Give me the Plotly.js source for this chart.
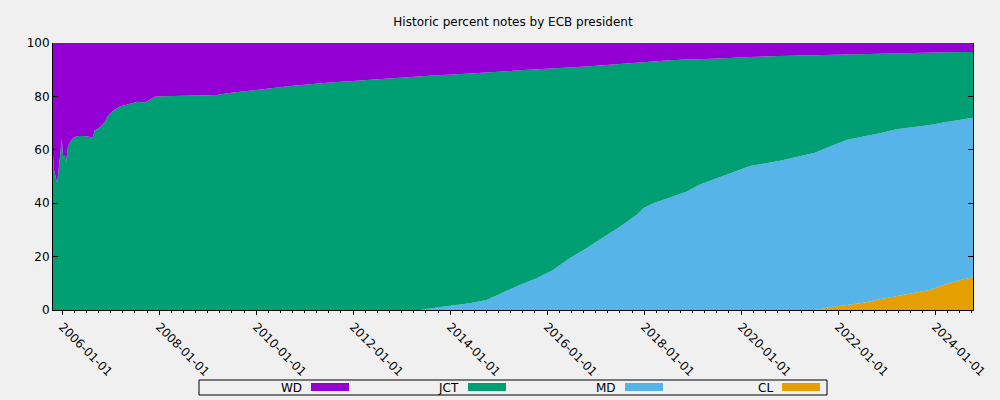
<!DOCTYPE html>
<html><head><meta charset="utf-8">
<script src="https://cdn.plot.ly/plotly-3.0.1.min.js"></script>
<style>html,body{margin:0;padding:0;background:#f0f0f0}#chart{width:1000px;height:400px}</style>
</head><body><div id="chart"></div>
<script>
// Dates of the readings
const dates = [
 '2005-10-23','2005-11-01','2005-11-24','2005-12-12','2005-12-28','2006-01-08','2006-01-21','2006-01-28',
 '2006-02-13','2006-03-10','2006-03-25','2006-04-28','2006-06-06','2006-08-18','2006-09-02','2006-10-12',
 '2006-11-18','2006-12-10','2007-01-19','2007-03-10','2007-05-26','2007-07-24','2007-09-17','2007-10-23',
 '2007-11-29','2008-01-30','2008-09-12','2009-03-10','2009-05-27','2010-01-30','2010-10-05','2011-06-18',
 '2012-02-21','2012-10-27','2013-05-19','2013-09-20','2014-01-23','2014-05-27','2014-10-02','2015-02-03',
 '2015-06-07','2015-10-13','2016-02-14','2016-06-17','2016-10-23','2017-02-24','2017-07-02','2017-11-03',
 '2017-12-24','2018-03-11','2018-07-13','2018-11-14','2019-02-24','2019-10-05','2020-03-07','2020-10-19',
 '2021-03-18','2021-07-09','2021-10-30','2022-03-04','2022-07-09','2022-11-10','2023-03-14','2023-07-16',
 '2023-11-21','2024-03-25','2024-07-31','2024-10-12'
];
// Percent of notes signed by each ECB president
const WD = [
 42,48,52.4,44,36,42.6,42,45,
 38.8,36.3,35.5,34.8,34.8,35.3,32.8,31.6,
 29.5,27.3,25.4,23.8,22.8,22.0,22.3,21.3,
 20.1,19.9,19.8,19.5,18.8,17.4,16.0,14.9,
 14.0,13.2,12.5,12.1,11.8,11.5,11.1,10.7,
 10.2,9.9,9.6,9.2,8.8,8.3,7.8,7.3,
 7.2,6.9,6.5,6.2,6.1,5.6,5.2,4.9,
 4.7,4.6,4.5,4.3,4.2,4.1,3.9,3.7,
 3.6,3.5,3.4,3.4
];
const JCT = [
 58,52,47.6,56,64,57.4,58,55,
 61.2,63.7,64.5,65.2,65.2,64.7,67.2,68.4,
 70.5,72.7,74.6,76.2,77.2,78.0,77.7,78.7,
 79.9,80.1,80.2,80.5,81.2,82.6,84.0,85.1,
 86.0,86.8,87.5,87.0,86.5,86.0,85.2,82.8,
 80.4,78.2,75.4,71.4,68.1,64.5,61.0,57.1,
 54.7,53.1,51.3,49.5,46.9,43.2,40.9,39.2,
 37.7,36.5,34.3,32.0,30.8,29.7,28.4,27.8,
 27.1,26.1,25.1,24.6
];
const MD = [
 0,0,0,0,0,0,0,0,
 0,0,0,0,0,0,0,0,
 0,0,0,0,0,0,0,0,
 0,0,0,0,0,0,0,0,
 0,0,0,0.9,1.7,2.5,3.7,6.5,
 9.4,11.9,15.0,19.4,23.1,27.2,31.2,35.6,
 38.1,40.0,42.2,44.3,47.0,51.2,53.9,55.9,
 57.6,58.9,60.2,61.8,62.3,62.2,62.5,62.3,
 61.8,60.7,60.0,59.8
];
const CL = [
 0,0,0,0,0,0,0,0,
 0,0,0,0,0,0,0,0,
 0,0,0,0,0,0,0,0,
 0,0,0,0,0,0,0,0,
 0,0,0,0,0,0,0,0,
 0,0,0,0,0,0,0,0,
 0,0,0,0,0,0,0,0,
 0,0,1.0,1.9,2.7,4.0,5.2,6.2,
 7.5,9.7,11.5,12.2
];
const seriesNames = ['WD','JCT','MD','CL'];
const seriesValues = {WD: WD, JCT: JCT, MD: MD, CL: CL};
const colors = {WD:'#9400d3', JCT:'#009e73', MD:'#56b4e9', CL:'#e69f00'};
const xTickFirst = '2006-01-01';

// Stack from bottom: CL, MD, JCT, WD
const stackOrder = ['CL','MD','JCT','WD'];
const traces = stackOrder.map(n => ({
  type:'scatter', mode:'lines', x: dates, y: seriesValues[n], name: n,
  stackgroup:'one', fill:'tonexty', fillcolor: colors[n],
  line:{width:0, color: colors[n]}, showlegend:false, hoverinfo:'skip'
}));

// Plot area in pixels
const W = 1000, H = 400, L = 53, R = 973, T = 43, B = 310;
const px = x => (x - L) / (R - L);
const py = y => (B - y) / (B - T);

const font = {family:'DejaVu Sans, sans-serif', size:12, color:'#000'};
const shapes = [{type:'rect', xref:'paper', yref:'paper', x0:px(199), x1:px(827), y0:py(395), y1:py(380),
  line:{color:'#000', width:1}, fillcolor:'rgba(0,0,0,0)'}];
const annotations = [];
const swatchStarts = [311, 468, 625, 782];
seriesNames.forEach((n, i) => {
  const s = swatchStarts[i];
  shapes.push({type:'rect', xref:'paper', yref:'paper', x0:px(s), x1:px(s+38), y0:py(391), y1:py(383),
    line:{width:0}, fillcolor: colors[n]});
  annotations.push({xref:'paper', yref:'paper', x:px(s-7), y:py(387.5), xanchor:'right', yanchor:'middle',
    text:n, showarrow:false, font:font});
});

const layout = {
  width: W, height: H,
  margin:{l:L, r:W-R, t:T, b:H-B, pad:0},
  paper_bgcolor:'#f0f0f0', plot_bgcolor:'#f0f0f0',
  font: font,
  title:{text:'Historic percent notes by ECB president', font:{family:'DejaVu Sans, sans-serif', size:12, color:'#000'},
    x:0.513, xanchor:'center', y:1-22/400, yanchor:'middle'},
  showlegend:false,
  xaxis:{type:'date', range:['2005-10-23','2024-10-12'], tick0:xTickFirst, dtick:'M24', tickformat:'%Y-%m-%d',
    tickangle:45, ticks:'outside', ticklen:4, tickcolor:'#000', showline:true, linecolor:'#000', linewidth:1,
    showgrid:false, zeroline:false, mirror:false, tickfont:font,
    minor:{dtick:'M3', ticks:'outside', ticklen:2, tickcolor:'#000', showgrid:false}},
  yaxis:{range:[0,100], dtick:20, ticks:'inside', ticklen:5, tickcolor:'#000', showline:true, linecolor:'#000',
    linewidth:1, mirror:'ticks', showgrid:false, zeroline:false, tickfont:font},
  shapes: shapes, annotations: annotations
};
Plotly.newPlot('chart', traces, layout, {staticPlot:true, displayModeBar:false});
</script>
</body></html>
